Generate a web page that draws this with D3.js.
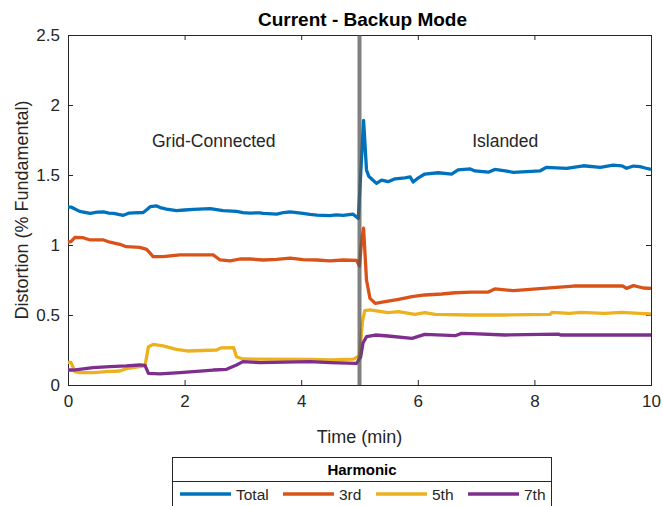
<!DOCTYPE html>
<html>
<head>
<meta charset="utf-8">
<script src="https://cdn.jsdelivr.net/npm/d3@7"></script>
<style>
  body { margin: 0; background: #fff; }
  svg { font-family: "Liberation Sans", Arial, sans-serif; }
</style>
</head>
<body>
<svg id="chart"></svg>
<script>
// time (min), distortion (% fundamental)
const totalSeries = [[0,1.27],[0.06,1.27],[0.2,1.24],[0.38,1.226],[0.5,1.235],[0.61,1.236],[0.7,1.228],[0.78,1.226],[0.95,1.212],[1.05,1.228],[1.12,1.23],[1.29,1.232],[1.36,1.255],[1.41,1.274],[1.52,1.279],[1.6,1.265],[1.69,1.257],[1.86,1.245],[2.0,1.25],[2.15,1.255],[2.44,1.26],[2.55,1.252],[2.66,1.245],[2.89,1.24],[3.0,1.232],[3.12,1.228],[3.29,1.23],[3.35,1.226],[3.58,1.22],[3.7,1.232],[3.81,1.236],[4.03,1.226],[4.15,1.218],[4.27,1.214],[4.49,1.21],[4.6,1.215],[4.72,1.212],[4.89,1.22],[4.98,1.19],[5.02,1.5],[5.07,1.89],[5.12,1.536],[5.16,1.49],[5.21,1.471],[5.29,1.44],[5.38,1.464],[5.49,1.452],[5.61,1.473],[5.78,1.48],[5.87,1.486],[5.92,1.45],[6.01,1.48],[6.12,1.507],[6.35,1.516],[6.58,1.507],[6.69,1.536],[6.9,1.543],[6.98,1.529],[7.21,1.52],[7.32,1.54],[7.5,1.53],[7.64,1.519],[8.1,1.53],[8.21,1.555],[8.55,1.548],[8.84,1.566],[9.13,1.555],[9.35,1.571],[9.5,1.565],[9.58,1.548],[9.7,1.564],[9.81,1.56],[9.9,1.55],[10,1.54]];
const thirdSeries = [[0,1.02],[0.05,1.024],[0.12,1.055],[0.26,1.052],[0.38,1.036],[0.61,1.036],[0.72,1.02],[0.89,1.005],[1.0,0.988],[1.23,0.983],[1.35,0.969],[1.46,0.917],[1.63,0.917],[1.92,0.929],[2.49,0.929],[2.61,0.893],[2.78,0.886],[2.95,0.9],[3.12,0.9],[3.35,0.893],[3.58,0.898],[3.81,0.907],[4.03,0.895],[4.27,0.893],[4.49,0.886],[4.72,0.893],[4.95,0.89],[5.0,0.85],[5.03,1.0],[5.07,1.12],[5.12,0.75],[5.18,0.619],[5.27,0.583],[5.44,0.595],[5.67,0.612],[5.9,0.631],[6.12,0.643],[6.41,0.65],[6.64,0.659],[6.92,0.664],[7.21,0.664],[7.32,0.686],[7.41,0.683],[7.64,0.674],[8.15,0.69],[8.67,0.707],[9.52,0.707],[9.58,0.69],[9.7,0.71],[9.87,0.693],[10,0.69]];
const fifthSeries = [[0,0.162],[0.05,0.162],[0.12,0.095],[0.2,0.088],[0.43,0.088],[0.66,0.095],[0.89,0.1],[1.0,0.117],[1.23,0.131],[1.32,0.136],[1.38,0.274],[1.46,0.29],[1.63,0.279],[1.86,0.255],[2.04,0.243],[2.55,0.25],[2.62,0.265],[2.84,0.267],[2.89,0.202],[3.0,0.186],[4.15,0.183],[4.5,0.18],[4.9,0.185],[5.0,0.21],[5.05,0.45],[5.09,0.531],[5.18,0.536],[5.49,0.517],[5.67,0.524],[5.95,0.505],[6.12,0.517],[6.3,0.505],[6.92,0.5],[7.5,0.5],[8.27,0.505],[8.3,0.519],[8.6,0.512],[8.8,0.519],[9.2,0.512],[9.5,0.519],[9.8,0.512],[10,0.507]];
const seventhSeries = [[0,0.107],[0.09,0.107],[0.43,0.124],[0.72,0.131],[1.0,0.136],[1.23,0.143],[1.32,0.14],[1.38,0.083],[1.58,0.079],[1.92,0.088],[2.15,0.095],[2.49,0.107],[2.72,0.112],[2.89,0.143],[3.0,0.167],[3.29,0.16],[4.15,0.167],[4.5,0.16],[4.95,0.155],[5.02,0.2],[5.06,0.3],[5.12,0.345],[5.27,0.357],[5.49,0.35],[5.9,0.333],[6.12,0.362],[6.64,0.352],[6.75,0.369],[6.92,0.367],[7.5,0.357],[8.41,0.364],[8.45,0.357],[10,0.357]];

const seriesNames = ["Total", "3rd", "5th", "7th"];
const seriesColors = ["#0072BD", "#D95319", "#EDB120", "#7E2F8E"];
const xTicks = [0, 2, 4, 6, 8, 10];
const yTicks = [0, 0.5, 1, 1.5, 2, 2.5];
const switchTime = 5;
const regionLabels = [["Grid-Connected", 2.5], ["Islanded", 7.5]];

const width = 663, height = 506;
const margin = {top: 35, right: 12, bottom: 121, left: 68};
const svg = d3.select("#chart").attr("width", width).attr("height", height);

const x = d3.scaleLinear().domain([0, 10]).range([margin.left, width - margin.right]);
const y = d3.scaleLinear().domain([0, 2.5]).range([height - margin.bottom, margin.top]);

const axisColor = "#262626";

// box axes, ticks pointing inwards like matlab
svg.append("g")
  .attr("transform", `translate(0,${y(0)})`)
  .call(d3.axisBottom(x).tickValues(xTicks).tickSize(-5).tickPadding(10).tickFormat(d3.format("d")));
svg.append("g")
  .attr("transform", `translate(${x(0)},0)`)
  .call(d3.axisLeft(y).tickValues(yTicks).tickSize(-5).tickPadding(8).tickFormat(d => d));
svg.append("g")
  .attr("transform", `translate(0,${y(2.5)})`)
  .call(d3.axisTop(x).tickValues(xTicks).tickSize(-5).tickFormat(""));
svg.append("g")
  .attr("transform", `translate(${x(10)},0)`)
  .call(d3.axisRight(y).tickValues(yTicks).tickSize(-5).tickFormat(""));

svg.selectAll(".domain").attr("stroke", axisColor).attr("stroke-width", 1);
svg.selectAll(".tick line").attr("stroke", axisColor);
svg.selectAll(".tick text").attr("fill", axisColor).style("font-size", "17px");

const line = d3.line().x(d => x(d[0])).y(d => y(d[1]));

[totalSeries, thirdSeries, fifthSeries, seventhSeries].forEach((s, i) => {
  svg.append("path")
    .datum(s)
    .attr("fill", "none")
    .attr("stroke", seriesColors[i])
    .attr("stroke-width", 3.3)
    .attr("stroke-linejoin", "round")
    .attr("d", line);
});

// mode switch marker
svg.append("line")
  .attr("x1", x(switchTime)).attr("x2", x(switchTime))
  .attr("y1", y(2.5)).attr("y2", y(0))
  .attr("stroke", "#555")
  .attr("stroke-opacity", 0.75)
  .attr("stroke-width", 4);

svg.selectAll(".region")
  .data(regionLabels)
  .join("text")
  .attr("x", d => x(d[1]))
  .attr("y", y(1.7))
  .attr("text-anchor", "middle")
  .attr("fill", axisColor)
  .style("font-size", "17.5px")
  .text(d => d[0]);

svg.append("text")
  .attr("x", (x(0) + x(10)) / 2 + 3)
  .attr("y", 26)
  .attr("text-anchor", "middle")
  .attr("font-weight", "bold")
  .style("font-size", "19px")
  .text("Current - Backup Mode");

svg.append("text")
  .attr("x", (x(0) + x(10)) / 2)
  .attr("y", 443)
  .attr("text-anchor", "middle")
  .attr("fill", axisColor)
  .style("font-size", "18px")
  .text("Time (min)");

svg.append("text")
  .attr("transform", `translate(28,${(y(0) + y(2.5)) / 2}) rotate(-90)`)
  .attr("text-anchor", "middle")
  .attr("fill", axisColor)
  .style("font-size", "18px")
  .text("Distortion (% Fundamental)");

// legend
const lg = svg.append("g");
lg.append("rect")
  .attr("x", 172.5).attr("y", 457.5)
  .attr("width", 379).attr("height", 60)
  .attr("fill", "#fff").attr("stroke", axisColor);
lg.append("line")
  .attr("x1", 172.5).attr("x2", 551.5)
  .attr("y1", 481.5).attr("y2", 481.5)
  .attr("stroke", axisColor);
lg.append("text")
  .attr("x", 362).attr("y", 475)
  .attr("text-anchor", "middle")
  .attr("font-weight", "bold")
  .style("font-size", "15px")
  .text("Harmonic");

const legendX = [180, 283, 376, 468];
const items = lg.selectAll(".item")
  .data(seriesNames)
  .join("g")
  .attr("transform", (d, i) => `translate(${legendX[i]},494)`);
items.append("line")
  .attr("x1", 0).attr("x2", 51)
  .attr("stroke", (d, i) => seriesColors[i])
  .attr("stroke-width", 3.3);
items.append("text")
  .attr("x", 56).attr("y", 6)
  .attr("fill", axisColor)
  .style("font-size", "15.5px")
  .text(d => d);
</script>
</body>
</html>
